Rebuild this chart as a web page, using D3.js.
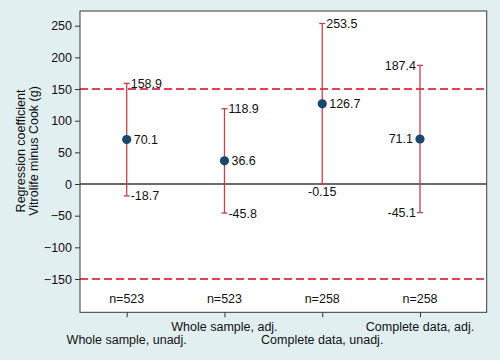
<!DOCTYPE html>
<html><head><meta charset="utf-8">
<script src="https://cdn.jsdelivr.net/npm/d3@7"></script>
<style>body{margin:0;background:#e1eff1;}svg{display:block;font-family:"Liberation Sans",Arial,sans-serif;}</style>
</head><body>
<svg id="c" width="500" height="360"></svg>
<script>
const categories = ["Whole sample, unadj.","Whole sample, adj.","Complete data, unadj.","Complete data, adj."];
const estimates = [70.1, 36.6, 126.7, 71.1];
const lower = [-18.7, -45.8, -0.15, -45.1];
const upper = [158.9, 118.9, 253.5, 187.4];
const estLabels = ["70.1","36.6","126.7","71.1"];
const lowerLabels = ["-18.7","-45.8","-0.15","-45.1"];
const upperLabels = ["158.9","118.9","253.5","187.4"];
const nLabels = ["n=523","n=523","n=258","n=258"];
const yTicks = [250,200,150,100,50,0,-50,-100,-150];
const refLines = [150,-150];

const svg = d3.select("#c");
const L=80, T=11, R=486.7, B=312.3;
const x = d3.scaleLinear().domain([1,4]).range([126.7,420]);
const y = d3.scaleLinear().domain([-150,250]).range([279,25.7]);

svg.append("rect").attr("width",500).attr("height",360).attr("fill","#e1eff1");
svg.append("rect").attr("x",L).attr("y",T).attr("width",R-L).attr("height",B-T).attr("fill","#fff");

// y axis
const ya = svg.append("g").attr("transform",`translate(${L},0)`)
  .call(d3.axisLeft(y).tickValues(yTicks).tickSize(5).tickPadding(3).tickFormat(d3.format("d")));
ya.select(".domain").remove();
ya.selectAll(".tick line").attr("stroke","#333");
ya.selectAll("text").attr("font-size",12.5).attr("fill","#111").attr("font-family","Liberation Sans, Arial, sans-serif");

// x axis ticks
const xa = svg.append("g").attr("transform",`translate(0,${B})`)
  .call(d3.axisBottom(x).tickValues([1,2,3,4]).tickSize(5).tickFormat(""));
xa.select(".domain").remove();
xa.selectAll(".tick line").attr("stroke","#333");

svg.selectAll("text.cat").data(categories).enter().append("text").attr("class","cat")
  .attr("x",(d,i)=>x(i+1)).attr("y",(d,i)=> i%2===0 ? 344 : 331)
  .attr("text-anchor","middle").attr("font-size",12.5).attr("fill","#111").text(d=>d);

// y title
const yt = svg.append("text").attr("transform","translate(0,151) rotate(-90)")
  .attr("text-anchor","middle").attr("font-size",12.5).attr("fill","#111");
yt.append("tspan").attr("x",0).attr("y",25).text("Regression coefficient");
yt.append("tspan").attr("x",0).attr("y",37.5).text("Vitrolife minus Cook (g)");

// reference lines
svg.selectAll("line.ref").data(refLines).enter().append("line")
  .attr("x1",L).attr("x2",R).attr("y1",d=>y(d)).attr("y2",d=>y(d))
  .attr("stroke","#e8405a").attr("stroke-width",2).attr("stroke-dasharray","8,4");
svg.append("line").attr("x1",L).attr("x2",R).attr("y1",y(0)).attr("y2",y(0))
  .attr("stroke","#3a3a3a").attr("stroke-width",1.6);

const ebColor="#c4424f";
const g = svg.selectAll("g.pt").data(estimates).enter().append("g");
g.append("line").attr("x1",(d,i)=>x(i+1)).attr("x2",(d,i)=>x(i+1))
  .attr("y1",(d,i)=>y(lower[i])).attr("y2",(d,i)=>y(upper[i])).attr("stroke",ebColor).attr("stroke-width",1.3);
g.append("line").attr("x1",(d,i)=>x(i+1)-3).attr("x2",(d,i)=>x(i+1)+3)
  .attr("y1",(d,i)=>y(lower[i])).attr("y2",(d,i)=>y(lower[i])).attr("stroke",ebColor).attr("stroke-width",1.3);
g.append("line").attr("x1",(d,i)=>x(i+1)-3).attr("x2",(d,i)=>x(i+1)+3)
  .attr("y1",(d,i)=>y(upper[i])).attr("y2",(d,i)=>y(upper[i])).attr("stroke",ebColor).attr("stroke-width",1.3);
g.append("circle").attr("cx",(d,i)=>x(i+1)).attr("cy",d=>y(d)).attr("r",4.6).attr("fill","#1a476f");

const fs=12.5;
// estimate labels
g.append("text").attr("x",(d,i)=> i===3 ? x(i+1)-7 : x(i+1)+7).attr("y",d=>y(d)+4.5)
  .attr("text-anchor",(d,i)=> i===3?"end":"start").attr("font-size",fs).attr("fill","#111").text((d,i)=>estLabels[i]);
// upper labels
g.append("text").attr("x",(d,i)=> i===3 ? x(i+1)-4 : x(i+1)+4).attr("y",(d,i)=>y(upper[i])+4.5)
  .attr("text-anchor",(d,i)=> i===3?"end":"start").attr("font-size",fs).attr("fill","#111").text((d,i)=>upperLabels[i]);
// lower labels
g.append("text").attr("x",(d,i)=> i===3 ? x(i+1)-4 : (i===2 ? x(i+1) : x(i+1)+4))
  .attr("y",(d,i)=> i===2 ? y(lower[i])+11.5 : y(lower[i])+4.5)
  .attr("text-anchor",(d,i)=> i===3?"end":(i===2?"middle":"start")).attr("font-size",fs).attr("fill","#111").text((d,i)=>lowerLabels[i]);
// n labels
svg.selectAll("text.n").data(nLabels).enter().append("text")
  .attr("x",(d,i)=>x(i+1)).attr("y",302.5).attr("text-anchor","middle").attr("font-size",fs).attr("fill","#111").text(d=>d);

// frame
svg.append("rect").attr("x",L).attr("y",T).attr("width",R-L).attr("height",B-T).attr("fill","none").attr("stroke","#3a3a3a").attr("stroke-width",1);
svg.append("rect").attr("x",L).attr("y",T).attr("width",R-L).attr("height",B-T).attr("fill","none").attr("stroke","#ffffff").attr("stroke-width",0).attr("opacity",0);
</script>
</body></html>
